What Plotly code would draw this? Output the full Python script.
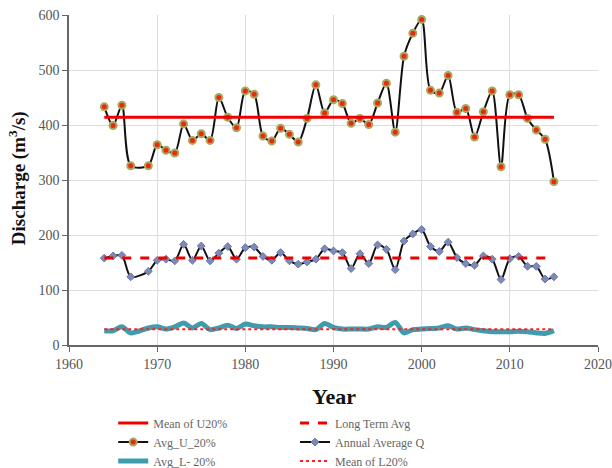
import plotly.graph_objects as go

years = list(range(1964, 2016))

# 1968 has no observation (the line is drawn across the gap)
avg_u20 = [433, 399, 436, 326, None, 326, 364, 354, 349, 402, 372, 384, 372, 450, 414, 395,
           462, 456, 380, 371, 394, 383, 369, 412, 473, 422, 446, 439, 403, 412, 401, 440,
           476, 387, 525, 567, 592, 463, 458, 490, 423, 430, 378, 424, 462, 324, 455, 455,
           412, 391, 374, 297]

annual_q = [158, 162, 163, 124, None, 134, 154, 156, 153, 183, 154, 180, 153, 167, 179, 156,
            177, 178, 161, 154, 168, 153, 147, 151, 156, 175, 171, 168, 139, 166, 148, 182,
            174, 137, 189, 202, 210, 179, 170, 187, 159, 148, 145, 162, 156, 119, 157, 161,
            143, 143, 120, 124]

avg_l20 = [26, 26, 33, 22, None, 31, 33, 29, 33, 40, 31, 39, 28, 31, 36, 30,
           38, 35, 33, 33, 32, 32, 31, 30, 28, 39, 32, 29, 29, 29, 29, 33,
           32, 41, 22, 28, 29, 30, 31, 35, 29, 31, 28, 26, 24, 24, 24, 25,
           24, 22, 21, 26]

mean_u20 = 414
long_term_avg = 158
mean_l20 = 28.5

serif = "Liberation Serif, Times New Roman, serif"
gray_txt = "#555555"

fig = go.Figure()

fig.add_trace(go.Scatter(x=years, y=avg_l20, mode="lines", name="Avg_L- 20%", connectgaps=True,
                         line=dict(color="#3d9cae", width=5, shape="spline", smoothing=0.8),
                         legend="legend"))
fig.add_trace(go.Scatter(x=[years[0], years[-1]], y=[mean_l20, mean_l20], mode="lines",
                         name="Mean of L20%", line=dict(color="#ff2020", width=2, dash="dot"),
                         legend="legend2"))
fig.add_trace(go.Scatter(x=years, y=annual_q, mode="lines+markers", name="Annual Average Q",
                         connectgaps=True,
                         line=dict(color="#111111", width=2, shape="spline", smoothing=0.8),
                         marker=dict(symbol="diamond", size=6, color="#7d8ab8",
                                     line=dict(color="#6a76a8", width=1)),
                         legend="legend2"))
fig.add_trace(go.Scatter(x=[years[0], years[-1]], y=[long_term_avg, long_term_avg], mode="lines",
                         name="Long Term Avg", line=dict(color="#ee0000", width=3, dash="dash"),
                         legend="legend2"))
fig.add_trace(go.Scatter(x=years, y=avg_u20, mode="lines+markers", name="Avg_U_20%",
                         connectgaps=True,
                         line=dict(color="#111111", width=2, shape="spline", smoothing=0.8),
                         marker=dict(symbol="circle", size=7, color="#e82a10",
                                     line=dict(color="#a8a860", width=2)),
                         legend="legend"))
fig.add_trace(go.Scatter(x=[years[0], years[-1]], y=[mean_u20, mean_u20], mode="lines",
                         name="Mean of U20%", line=dict(color="#ee0000", width=3),
                         legend="legend"))

leg_common = dict(orientation="v", yanchor="top", xanchor="left",
                  xref="container", yref="container",
                  font=dict(family=serif, size=12, color="#666666"),
                  bgcolor="rgba(0,0,0,0)", tracegroupgap=0, itemwidth=30,
                  traceorder="reversed")

fig.update_layout(
    width=612, height=468,
    margin=dict(l=69, r=14, t=15, b=123, autoexpand=False),
    plot_bgcolor="white", paper_bgcolor="white",
    font=dict(family=serif, color=gray_txt),
    legend=dict(x=0.185, y=0.127, **leg_common),
    legend2=dict(x=0.482, y=0.127, **leg_common),
    xaxis=dict(range=[1960, 2020], dtick=10, tick0=1960,
               showgrid=True, gridcolor="#dddddd", gridwidth=1,
               showline=True, linecolor="#666666", linewidth=1.5,
               ticks="outside", ticklen=5, tickcolor="#666666",
               tickfont=dict(family=serif, size=14, color=gray_txt),
               zeroline=False),
    yaxis=dict(range=[0, 600], dtick=100,
               showgrid=True, gridcolor="#dddddd", gridwidth=1,
               showline=True, linecolor="#666666", linewidth=1.5,
               ticks="outside", ticklen=5, tickcolor="#666666",
               tickfont=dict(family=serif, size=14, color=gray_txt),
               zeroline=False),
    annotations=[
        dict(text="<b>Year</b>", xref="paper", yref="paper", x=0.5, y=-0.155,
             xanchor="center", yanchor="middle", showarrow=False,
             font=dict(family=serif, size=22, color="#111111")),
        dict(text="<b>Discharge (m<sup>3</sup>/s)</b>", xref="paper", yref="paper",
             x=-0.098, y=0.506, xanchor="center", yanchor="middle", textangle=-90,
             showarrow=False, font=dict(family=serif, size=19, color="#111111")),
    ],
)

fig.write_html("out.html")
